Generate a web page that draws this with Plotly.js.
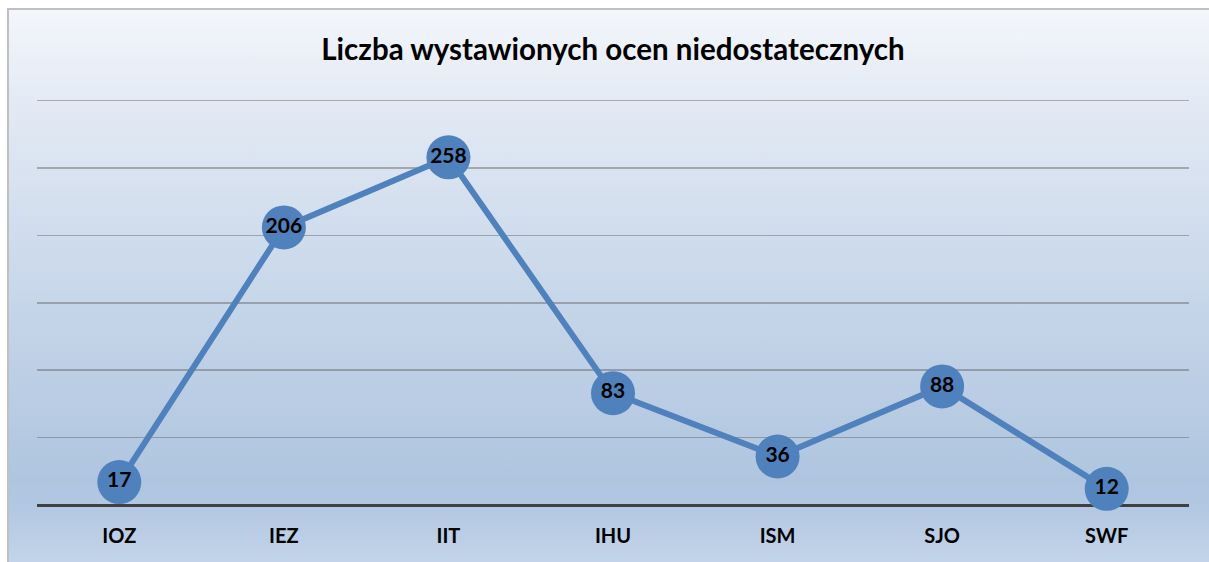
<!DOCTYPE html>
<html>
<head>
<meta charset="utf-8">
<script src="https://cdn.plot.ly/plotly-3.0.1.min.js"></script>
<style>
  html, body { margin: 0; padding: 0; background: #ffffff; }
  #wrap { position: relative; width: 1209px; height: 562px; overflow: hidden; }
  #bg {
    position: absolute; left: 7px; top: 8px; width: 1220px; height: 570px;
    border-left: 2px solid #c0c0c0; border-top: 2px solid #c0c0c0;
    background: linear-gradient(to bottom, #f3f6fb 0px, #e2e9f4 100px, #c8d7ea 280px, #afc5df 470px, #b3c8e2 500px, #c6d7eb 562px);
  }
  #chart { position: absolute; left: 0; top: 0; width: 1209px; height: 562px; }
</style>
</head>
<body>
<div id="wrap">
  <div id="bg"></div>
  <div id="chart"></div>
</div>
<script>
const categories = ["IOZ", "IEZ", "IIT", "IHU", "ISM", "SJO", "SWF"];
const values = [17, 206, 258, 83, 36, 88, 12];
const chartTitle = "Liczba wystawionych ocen niedostatecznych";

const FONT = "Lato, 'Open Sans', 'Noto Sans', sans-serif";

const trace = {
  type: "scatter",
  mode: "lines+markers+text",
  x: categories,
  y: values,
  text: values.map(String),
  textposition: "middle center",
  textfont: { family: FONT, size: 21, color: "#000000", weight: "bold" },
  line: { color: "#4f81bd", width: 6 },
  marker: { color: "#4f81bd", size: 44, line: { width: 0 } },
  cliponaxis: false,
  hoverinfo: "x+y"
};

const layout = {
  width: 1209,
  height: 562,
  paper_bgcolor: "rgba(0,0,0,0)",
  plot_bgcolor: "rgba(0,0,0,0)",
  margin: { l: 37, r: 20, t: 98, b: 57 },
  showlegend: false,
  title: {
    text: "<b>" + chartTitle + "</b>",
    font: { family: FONT, size: 29.5, color: "#000000" },
    xref: "container", x: 0.507, xanchor: "center",
    yref: "container", y: 1 - 50 / 562, yanchor: "middle"
  },
  xaxis: {
    type: "category",
    range: [-0.5, 6.5],
    showgrid: false,
    zeroline: false,
    showline: false,
    ticks: "",
    ticklabelstandoff: 17,
    tickfont: { family: FONT, size: 20, color: "#000000", weight: "bold" },
    fixedrange: true
  },
  yaxis: {
    range: [0, 302],
    dtick: 50,
    tick0: 0,
    showticklabels: false,
    ticks: "",
    showgrid: true,
    gridcolor: "rgba(95,95,95,0.45)",
    gridwidth: 1.5,
    zeroline: true,
    zerolinecolor: "#404040",
    zerolinewidth: 3,
    showline: false,
    fixedrange: true
  }
};

Plotly.newPlot("chart", [trace], layout, { displayModeBar: false, staticPlot: true });
</script>
</body>
</html>
